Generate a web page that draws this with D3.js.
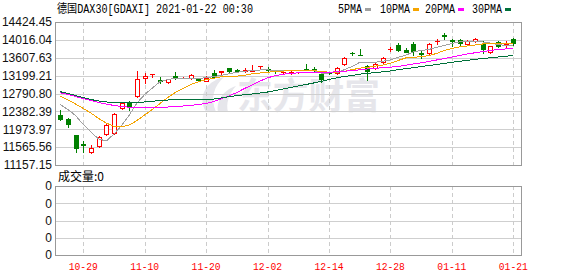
<!DOCTYPE html>
<html><head><meta charset="utf-8">
<script src="https://cdn.jsdelivr.net/npm/d3@7"></script>
<style>body{margin:0;background:#fff}svg{display:block}</style>
</head><body><svg id="c" width="578" height="276"></svg>
<script>
const dates = ["10-26","10-27","10-28","10-29","10-30","11-02","11-03","11-04","11-05","11-06",
"11-09","11-10","11-11","11-12","11-13","11-16","11-17","11-18","11-19","11-20",
"11-23","11-24","11-25","11-26","11-27","11-30","12-01","12-02","12-03","12-04",
"12-07","12-08","12-09","12-10","12-11","12-14","12-15","12-16","12-17","12-18",
"12-21","12-22","12-23","12-28","12-29","12-30","01-04","01-05","01-06","01-07",
"01-08","01-11","01-12","01-13","01-14","01-15","01-18","01-19","01-20","01-21"];
const openV = [12300,12208,11843,11626,11461,11598,11873,11888,12453,12590,
12741,13135,13229,13088,13060,13200,13145,13138,13120,13083,
13250,13287,13367,13318,13298,13296,13412,13345,13303,13282,
13280,13282,13355,13344,13245,13255,13252,13462,13715,13675,
13420,13365,13500,13803,13900,13790,13930,13710,13723,13985,
14120,14005,14020,13930,13997,13922,13732,13975,13933,14040];
const highV = [12414,12232,11854,11706,11614,11820,12083,12338,12603,12613,
13312,13266,13236,13175,13129,13290,13160,13243,13150,13191,
13328,13296,13375,13344,13370,13453,13419,13400,13328,13289,
13312,13289,13458,13395,13255,13262,13403,13632,13739,13810,
13442,13481,13620,13860,13938,13830,13960,13796,13951,14045,
14170,14030,14036,14013,14052,13980,13876,13985,13995,14070];
const lowV = [12185,12032,11461,11461,11438,11562,11849,11875,12437,12414,
12704,13038,13161,13024,13038,13125,13140,13115,13075,13076,
13135,13215,13266,13282,13282,13296,13360,13295,13255,13229,
13235,13255,13346,13316,13060,13240,13236,13440,13677,13668,
13090,13344,13476,13760,13769,13746,13670,13613,13670,13925,
14040,13880,13899,13915,13974,13720,13716,13850,13860,13899];
const closeV = [12201,12083,11552,11603,11539,11800,12071,12322,12567,12489,
13115,13195,13236,13076,13115,13145,13152,13220,13110,13150,
13160,13296,13305,13312,13335,13305,13419,13335,13296,13289,
13287,13289,13346,13325,13131,13248,13374,13600,13708,13668,
13300,13462,13600,13812,13780,13750,13769,13700,13922,13993,
14112,13995,13950,13995,14029,13815,13865,13870,13942,13940];
const ma5 = [12539,12425,12288,12083,11911,11751,11706,11865,12060,12300,
12574,12768,12916,13060,13113,13134,13138,13138,13138,13150,
13179,13207,13241,13275,13300,13316,13328,13328,13326,13319,
13312,13312,13312,13312,13259,13259,13266,13335,13408,13501,
13503,13503,13529,13556,13618,13664,13746,13773,13798,13842,
13888,13933,13972,13981,13988,13970,13945,13908,13890,13878];
const ma10 = [12727,12642,12551,12448,12345,12220,12117,12037,12032,12071,
12174,12300,12425,12562,12699,12814,12905,12996,13058,13106,
13140,13172,13182,13188,13209,13241,13259,13277,13291,13303,
13312,13312,13312,13312,13293,13277,13282,13298,13335,13369,
13389,13415,13442,13481,13545,13604,13618,13632,13659,13705,
13773,13819,13858,13876,13899,13922,13929,13936,13938,13938];
const ma20 = [12809,12768,12722,12677,12631,12585,12551,12517,12494,12478,
12476,12476,12476,12476,12482,12494,12505,12521,12539,12562,
12608,12672,12738,12814,12905,12985,13072,13150,13195,13232,
13248,13264,13266,13266,13271,13277,13287,13300,13316,13332,
13351,13367,13380,13392,13408,13437,13465,13492,13522,13556,
13590,13625,13659,13693,13721,13746,13773,13796,13808,13821];
const ma30 = [12832,12791,12745,12695,12654,12619,12597,12590,12590,12590,
12590,12597,12613,12631,12642,12649,12656,12661,12665,12665,
12665,12688,12718,12745,12761,12779,12802,12825,12855,12894,
12928,12962,12996,13031,13067,13111,13150,13179,13202,13232,
13250,13268,13287,13305,13335,13357,13380,13408,13428,13453,
13476,13504,13527,13549,13572,13588,13606,13625,13641,13664];
const volume = dates.map(() => 0);
const yTickLabels = ["14424.45","14016.04","13607.63","13199.21","12790.80","12382.39","11973.97","11565.56","11157.15"];
const volTickLabels = ["0","0","0","0","0"];
const xTickLabels = ["10-29","11-10","11-20","12-02","12-14","12-28","01-11","01-21"];
const maNames = ["5PMA","10PMA","20PMA","30PMA"];
const maColors = ["#a0a0a0","#f5a400","#ff00ff","#00703a"];
const titleText = "德国DAX30[GDAXI] 2021-01-22 00:30";

const svg = d3.select("#c");
const L = 55, R = 522, T = 22, B = 165, VT = 186, VB = 255;
const x = d3.scalePoint().domain(dates).range([60.2, 513.3]);
const y = d3.scaleLinear().domain([11157.15, 14424.45]).range([B, T]);
const yv = d3.scaleLinear().domain([0, 4]).range([VB, VT]);
const red = "#ff0000", green = "#008000";

// watermark
const wm = svg.append("g").attr("fill", "#e6e6eb");
wm.append("path").attr("d", "M206,112 C198,98 204,82 224,77 C214,86 210,98 216,112 Z M218,112 C216,100 224,90 236,86 C228,95 226,104 228,112 Z");
wm.append("text").attr("x", 237).attr("y", 109).attr("font-family", "Noto Sans CJK SC")
  .attr("font-weight", "bold").attr("font-size", 36).attr("textLength", 143)
  .attr("lengthAdjust", "spacingAndGlyphs").text("东方财富");

// grid
const grid = svg.append("g").attr("shape-rendering", "crispEdges");
yTickLabels.forEach(t => {
  const yy = Math.round(y(+t)) + 0.5;
  grid.append("line").attr("x1", L).attr("x2", R).attr("y1", yy).attr("y2", yy).attr("stroke", "#cfcfcf");
});
volTickLabels.forEach((t, i) => {
  const yy = Math.round(yv(i)) + 0.5;
  grid.append("line").attr("x1", L).attr("x2", R).attr("y1", yy).attr("y2", yy).attr("stroke", "#cfcfcf");
});
xTickLabels.forEach(t => {
  const xx = Math.round(x(t)) + 0.5;
  [[T, B], [VT, VB]].forEach(([a, b]) => grid.append("line").attr("x1", xx).attr("x2", xx)
    .attr("y1", a).attr("y2", b).attr("stroke", "#cccccc").attr("stroke-dasharray", "4,3"));
});

// candles
const cg = svg.append("g").attr("shape-rendering", "crispEdges");
dates.forEach((d, i) => {
  const cx = Math.round(x(d));
  const up = closeV[i] >= openV[i];
  const col = up ? red : green;
  cg.append("line").attr("x1", cx + 0.5).attr("x2", cx + 0.5)
    .attr("y1", Math.round(y(highV[i]))).attr("y2", Math.round(y(lowV[i])) + 1).attr("stroke", col);
  const top = Math.round(y(Math.max(openV[i], closeV[i])));
  const bot = Math.round(y(Math.min(openV[i], closeV[i])));
  if (bot - top < 1) {
    cg.append("line").attr("x1", cx - 2).attr("x2", cx + 3).attr("y1", top + 0.5).attr("y2", top + 0.5).attr("stroke", col);
  } else if (up) {
    cg.append("rect").attr("x", cx - 1.5).attr("y", top + 0.5).attr("width", 4).attr("height", bot - top)
      .attr("fill", "#fff").attr("stroke", red);
  } else {
    cg.append("rect").attr("x", cx - 2).attr("y", top).attr("width", 5).attr("height", bot - top + 1).attr("fill", green);
  }
});

// volume bars (all zero)
svg.append("g").selectAll("rect").data(volume).join("rect")
  .attr("x", (v, i) => Math.round(x(dates[i])) - 2).attr("width", 5)
  .attr("y", v => yv(v / 1)).attr("height", 0).attr("fill", green);

// MA lines
const mg = svg.append("g");
[ma5, ma10, ma20, ma30].forEach((arr, k) => {
  const line = d3.line().x((v, i) => x(dates[i])).y(v => y(v));
  mg.append("path").attr("d", line(arr)).attr("fill", "none").attr("stroke", maColors[k])
    .attr("stroke-width", 1).attr("shape-rendering", "crispEdges");
});

// borders
const bd = svg.append("g").attr("fill", "none").attr("stroke", "#999").attr("shape-rendering", "crispEdges");
bd.append("rect").attr("x", L + 0.5).attr("y", T + 0.5).attr("width", R - L - 1).attr("height", B - T);
bd.append("rect").attr("x", L + 0.5).attr("y", VT + 0.5).attr("width", R - L - 1).attr("height", VB - VT);

// y labels
const ylab = svg.append("g").attr("font-family", "Liberation Sans, Arial, sans-serif").attr("font-size", 12)
  .attr("fill", "#111").attr("text-anchor", "end");
yTickLabels.forEach(t => ylab.append("text").attr("x", 52).attr("y", y(+t)).attr("dy", "0.36em").text(t));
volTickLabels.forEach((t, i) => ylab.append("text").attr("x", 52).attr("y", yv(i)).attr("dy", "0.36em").text(t));

// x labels
const xlab = svg.append("g").attr("font-family", "Liberation Mono, DejaVu Sans Mono, monospace").attr("font-size", 11)
  .attr("fill", "#ff0000").attr("text-anchor", "middle");
xTickLabels.forEach(t => xlab.append("text").attr("x", x(t)).attr("y", 270).attr("textLength", 29)
  .attr("lengthAdjust", "spacingAndGlyphs").text(t));

// title & legend
const mono = "Liberation Mono, 'Noto Sans CJK SC', monospace";
svg.append("text").attr("x", 57).attr("y", 13).attr("font-family", mono).attr("font-size", 12)
  .attr("textLength", 196).attr("lengthAdjust", "spacingAndGlyphs").attr("fill", "#000").text(titleText);
const legX = [338, 380, 425, 472], legW = [24, 30, 30, 30];
maNames.forEach((n, k) => {
  svg.append("text").attr("x", legX[k]).attr("y", 13).attr("font-family", mono).attr("font-size", 12)
    .attr("textLength", legW[k]).attr("lengthAdjust", "spacingAndGlyphs").attr("fill", "#000").text(n);
  svg.append("rect").attr("x", legX[k] + legW[k] + 3).attr("y", 8).attr("width", 6).attr("height", 3).attr("fill", maColors[k]);
});
svg.append("text").attr("x", 58).attr("y", 181).attr("font-family", "'Noto Sans CJK SC', sans-serif").attr("font-size", 12)
  .attr("fill", "#000").text("成交量:0");
</script></body></html>
